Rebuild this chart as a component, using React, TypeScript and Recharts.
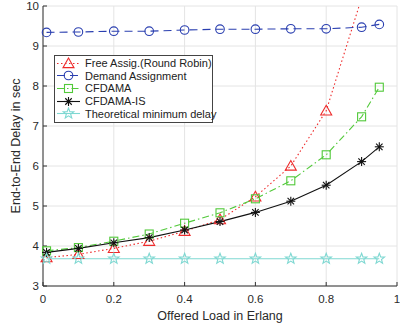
import React from 'react';
import { LineChart, Line, XAxis, YAxis, CartesianGrid } from 'recharts';

const loads = [0.01, 0.1, 0.2, 0.3, 0.4, 0.5, 0.6, 0.7, 0.8, 0.9, 0.95];
const freeAssig = [3.71, 3.79, 3.94, 4.12, 4.37, 4.66, 5.23, 6.0, 7.38, 10.2, null];
const demandAssig = [9.34, 9.35, 9.37, 9.37, 9.4, 9.42, 9.42, 9.43, 9.43, 9.47, 9.54];
const cfdama = [3.88, 3.96, 4.12, 4.3, 4.57, 4.83, 5.18, 5.63, 6.28, 7.23, 7.97];
const cfdamaIs = [3.84, 3.94, 4.08, 4.21, 4.4, 4.61, 4.84, 5.12, 5.52, 6.11, 6.48];
const theoretical = [3.68, 3.68, 3.68, 3.68, 3.68, 3.68, 3.68, 3.68, 3.68, 3.68, 3.68];

const xTicks = [0, 0.2, 0.4, 0.6, 0.8, 1];
const yTicks = [3, 4, 5, 6, 7, 8, 9, 10];

const data = loads.map((x, i) => ({
  x,
  free: freeAssig[i],
  demand: demandAssig[i],
  cfdama: cfdama[i],
  cfdamaIs: cfdamaIs[i],
  theo: theoretical[i],
}));

type MarkerType = 'triangle' | 'circle' | 'square' | 'asterisk' | 'star';

const series: { key: string; name: string; color: string; dash?: string; marker: MarkerType }[] = [
  { key: 'free', name: 'Free Assig.(Round Robin)', color: '#ee2b2b', dash: '1.5 2.5', marker: 'triangle' },
  { key: 'demand', name: 'Demand Assignment', color: '#2a3fb0', dash: '8 5', marker: 'circle' },
  { key: 'cfdama', name: 'CFDAMA', color: '#52c93a', dash: '7 3 1.5 3', marker: 'square' },
  { key: 'cfdamaIs', name: 'CFDAMA-IS', color: '#111111', marker: 'asterisk' },
  { key: 'theo', name: 'Theoretical minimum delay', color: '#7fd8d2', marker: 'star' },
];

function Marker({ type, color, cx, cy }: { type: MarkerType; color: string; cx: number; cy: number }) {
  if (cx == null || cy == null || isNaN(cx) || isNaN(cy)) return null;
  const sw = 1.1;
  switch (type) {
    case 'triangle': {
      const r = 5.5;
      const pts = `${cx},${cy - r} ${cx + r},${cy + r * 0.75} ${cx - r},${cy + r * 0.75}`;
      return <polygon points={pts} fill="none" stroke={color} strokeWidth={sw} />;
    }
    case 'circle':
      return <circle cx={cx} cy={cy} r={4.3} fill="none" stroke={color} strokeWidth={sw} />;
    case 'square':
      return <rect x={cx - 4} y={cy - 4} width={8} height={8} fill="none" stroke={color} strokeWidth={sw} />;
    case 'asterisk': {
      const r = 4.5;
      const d = r * 0.72;
      return (
        <g stroke={color} strokeWidth={sw}>
          <line x1={cx - r} y1={cy} x2={cx + r} y2={cy} />
          <line x1={cx} y1={cy - r} x2={cx} y2={cy + r} />
          <line x1={cx - d} y1={cy - d} x2={cx + d} y2={cy + d} />
          <line x1={cx - d} y1={cy + d} x2={cx + d} y2={cy - d} />
        </g>
      );
    }
    case 'star': {
      const ro = 5.5;
      const ri = 2.3;
      const pts: string[] = [];
      for (let k = 0; k < 10; k++) {
        const a = -Math.PI / 2 + (k * Math.PI) / 5;
        const r = k % 2 === 0 ? ro : ri;
        pts.push(`${cx + r * Math.cos(a)},${cy + r * Math.sin(a)}`);
      }
      return <polygon points={pts.join(' ')} fill="none" stroke={color} strokeWidth={sw} />;
    }
  }
  return null;
}

const makeDot = (type: MarkerType, color: string) => (props: any) => (
  <Marker key={`${type}-${props.index}`} type={type} color={color} cx={props.cx} cy={props.cy} />
);

const font = 'Liberation Sans, Arial, Helvetica, sans-serif';

function LegendBox() {
  return (
    <div
      style={{
        position: 'absolute',
        left: 54,
        top: 55,
        border: '1px solid #444',
        background: '#fff',
        width: 157,
        padding: '1px 0 2px 0',
        fontFamily: font,
        fontSize: 11,
        color: '#222',
      }}
    >
      {series.map((s) => (
        <div key={s.key} style={{ display: 'flex', alignItems: 'center', height: 12.6 }}>
          <svg width={28} height={13} style={{ flex: 'none' }}>
            <line x1={2} y1={6.5} x2={25} y2={6.5} stroke={s.color} strokeWidth={1.1} strokeDasharray={s.dash} />
            <Marker type={s.marker} color={s.color} cx={13.5} cy={6.5} />
          </svg>
          <span style={{ marginLeft: 2, whiteSpace: 'nowrap' }}>{s.name}</span>
        </div>
      ))}
    </div>
  );
}

export default function App() {
  return (
    <div style={{ position: 'absolute', left: 0, top: 0, width: 400, height: 326 }}>
      <LineChart width={400} height={326} data={data} margin={{ top: 6, right: 3, left: 0, bottom: 0 }}>
        <CartesianGrid stroke="#e4e4e4" strokeWidth={1} />
        <XAxis
          dataKey="x"
          type="number"
          domain={[0, 1]}
          ticks={xTicks}
          height={40}
          tickSize={-4}
          tickMargin={13}
          stroke="#333"
          tick={{ fill: '#2a2a2a', fontSize: 11.5, fontFamily: font }}
          tickFormatter={(v: number) => String(v)}
          label={{ value: 'Offered Load in Erlang', position: 'insideBottom', offset: 6, fill: '#2a2a2a', fontSize: 12.5, fontFamily: font }}
        />
        <XAxis xAxisId="top" dataKey="x" type="number" orientation="top" domain={[0, 1]} ticks={xTicks} height={0} tickSize={-4} tick={false} stroke="#555" />
        <YAxis
          type="number"
          domain={[3, 10]}
          ticks={yTicks}
          allowDataOverflow
          width={43}
          tickSize={-4}
          tickMargin={8}
          stroke="#333"
          tick={{ fill: '#2a2a2a', fontSize: 11.5, fontFamily: font }}
          label={{ value: 'End-to-End Delay in sec', angle: -90, position: 'insideLeft', offset: 16, fill: '#2a2a2a', fontSize: 12.5, fontFamily: font, style: { textAnchor: 'middle' } }}
        />
        <YAxis yAxisId="right" orientation="right" type="number" domain={[3, 10]} ticks={yTicks} width={0} tickSize={-4} tick={false} stroke="#555" />
        {series.map((s) => (
          <Line
            key={s.key}
            dataKey={s.key}
            name={s.name}
            stroke={s.color}
            strokeWidth={1.1}
            strokeDasharray={s.dash}
            type="linear"
            dot={makeDot(s.marker, s.color)}
            activeDot={false}
            isAnimationActive={false}
            connectNulls={false}
          />
        ))}
      </LineChart>
      <LegendBox />
    </div>
  );
}
